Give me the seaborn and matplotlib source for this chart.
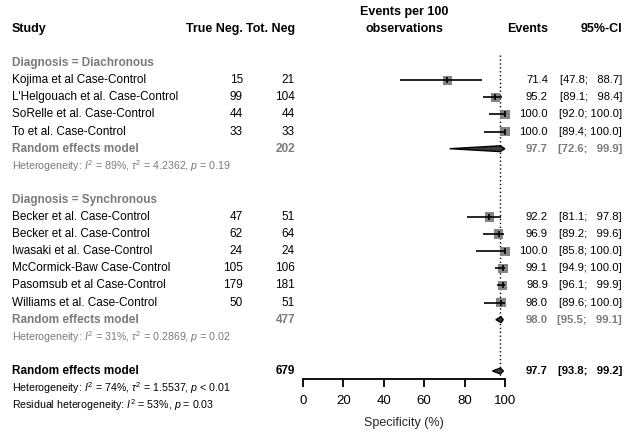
import matplotlib
matplotlib.use("Agg")
import matplotlib.pyplot as plt
import matplotlib.transforms as mtransforms
from matplotlib.patches import Polygon
import pandas as pd
import seaborn as sns

# ---- data ----
studies_dia = ["Kojima et al Case-Control", "L'Helgouach et al. Case-Control",
               "SoRelle et al. Case-Control", "To et al. Case-Control"]
trueneg_dia = [15, 99, 44, 33]
totneg_dia = [21, 104, 44, 33]
est_dia = [71.4, 95.2, 100.0, 100.0]
lo_dia = [47.8, 89.1, 92.0, 89.4]
hi_dia = [88.7, 98.4, 100.0, 100.0]

studies_syn = ["Becker et al. Case-Control", "Becker et al. Case-Control",
               "Iwasaki et al. Case-Control", "McCormick-Baw Case-Control",
               "Pasomsub et al Case-Control", "Williams et al. Case-Control"]
trueneg_syn = [47, 62, 24, 105, 179, 50]
totneg_syn = [51, 64, 24, 106, 181, 51]
est_syn = [92.2, 96.9, 100.0, 99.1, 98.9, 98.0]
lo_syn = [81.1, 89.2, 85.8, 94.9, 96.1, 89.6]
hi_syn = [97.8, 99.6, 100.0, 100.0, 99.9, 100.0]

pooled_total = [202, 477, 679]
pooled_est = [97.7, 98.0, 97.7]
pooled_lo = [72.6, 95.5, 93.8]
pooled_hi = [99.9, 99.1, 99.2]

het_dia = r"Heterogeneity: $I^2$ = 89%, $\tau^2$ = 4.2362, $p$ = 0.19"
het_syn = r"Heterogeneity: $I^2$ = 31%, $\tau^2$ = 0.2869, $p$ = 0.02"
het_all = r"Heterogeneity: $I^2$ = 74%, $\tau^2$ = 1.5537, $p$ < 0.01"
het_res = r"Residual heterogeneity: $I^2$ = 53%, $p$ = 0.03"

xticks = [0, 20, 40, 60, 80, 100]

# row positions (0 = header line)
rows_dia = [3, 4, 5, 6]
rows_syn = [11, 12, 13, 14, 15, 16]
rows_pooled = [7, 17, 20]

sns.set_theme(style="white")
plt.rcParams["font.family"] = ["Liberation Sans", "DejaVu Sans"]
plt.rcParams["mathtext.fontset"] = "custom"
plt.rcParams["mathtext.rm"] = "Liberation Sans"
plt.rcParams["mathtext.it"] = "Liberation Sans:italic"
plt.rcParams["mathtext.bf"] = "Liberation Sans:bold"

W, H = 630, 437
fig = plt.figure(figsize=(6.3, 4.37), dpi=100)
fig.patch.set_facecolor("white")

row_h = 17.1
top_px = 29
ax_bottom_px = 379
ax = fig.add_axes([303 / W, 1 - ax_bottom_px / H, 202 / W, ax_bottom_px / H])
ax.set_xlim(0, 100)
ax.set_ylim((ax_bottom_px - top_px) / row_h, -top_px / row_h)

df = pd.DataFrame({
    "study": studies_dia + studies_syn,
    "est": est_dia + est_syn,
    "lo": lo_dia + lo_syn,
    "hi": hi_dia + hi_syn,
    "row": rows_dia + rows_syn,
})

# squares + CI lines
sns.scatterplot(data=df, x="est", y="row", marker="s", s=46, color="#848484",
                edgecolor="none", ax=ax, clip_on=False, zorder=3)
ax.hlines(df["row"], df["lo"], df["hi"], color="black", lw=1.2, zorder=4, clip_on=False)
ax.scatter(df["est"], df["row"], marker="|", s=18, color="black", lw=1.2, zorder=5, clip_on=False)

# diamonds
for r, e, lo, hi in zip(rows_pooled, pooled_est, pooled_lo, pooled_hi):
    hh = 0.17
    ax.add_patch(Polygon([[lo, r], [e, r - hh], [hi, r], [e, r + hh]], closed=True,
                         facecolor="#3c3c3c", edgecolor="black", lw=1.0, zorder=4,
                         clip_on=False))

# reference line at overall estimate
ax.plot([pooled_est[2], pooled_est[2]], [1.5, ax.get_ylim()[0]], ls=(0, (1, 1.8)),
        color="black", lw=1.0, clip_on=False, zorder=2)

# axes styling
for s in ["top", "left", "right"]:
    ax.spines[s].set_visible(False)
ax.spines["bottom"].set_linewidth(1.3)
ax.spines["bottom"].set_color("black")
ax.set_yticks([])
ax.set_xticks(xticks)
ax.tick_params(axis="x", direction="out", length=6, width=1.3, pad=5.5,
               labelsize=9.5, colors="black", bottom=True)
ax.set_xlabel("Specificity (%)", fontsize=9, labelpad=7)
ax.set_ylabel("")

# text columns
tr = mtransforms.blended_transform_factory(fig.transFigure, ax.transData)


def put(xpx, row, s, ha="left", color="black", weight="normal", size=8.5):
    ax.text(xpx / W, row, s, transform=tr, ha=ha, va="center", color=color,
            fontweight=weight, fontsize=size, clip_on=False)


def ci_text(l, h):
    # pad the upper bound with a figure space, like meta does
    up = f"{h:.1f}"
    pad = "\u2007" * (5 - len(up))
    return f"[{l:.1f}; {pad}{up}]"


gray = "#7a7a7a"
x_study, x_tn, x_tot, x_ev, x_ci = 12, 243, 295, 548, 622
ci_size = 8.1

put(x_study, 0, "Study", weight="bold", size=9)
put(x_tn, 0, "True Neg.", ha="right", weight="bold", size=9)
put(x_tot, 0, "Tot. Neg", ha="right", weight="bold", size=9)
put(404, -1, "Events per 100", ha="center", weight="bold", size=9)
put(404, 0, "observations", ha="center", weight="bold", size=9)
put(x_ev, 0, "Events", ha="right", weight="bold", size=9)
put(x_ci, 0, "95%-CI", ha="right", weight="bold", size=9)

put(x_study, 2, "Diagnosis = Diachronous", color=gray, weight="bold")
put(x_study, 10, "Diagnosis = Synchronous", color=gray, weight="bold")

for names, tn, tot, est, lo, hi, rows in [
        (studies_dia, trueneg_dia, totneg_dia, est_dia, lo_dia, hi_dia, rows_dia),
        (studies_syn, trueneg_syn, totneg_syn, est_syn, lo_syn, hi_syn, rows_syn)]:
    for n, a, b, e, l, h, r in zip(names, tn, tot, est, lo, hi, rows):
        put(x_study, r, n)
        put(x_tn, r, str(a), ha="right")
        put(x_tot, r, str(b), ha="right")
        put(x_ev, r, f"{e:.1f}", ha="right", size=ci_size)
        put(x_ci, r, ci_text(l, h), ha="right", size=ci_size)

for i, (r, tot, e, l, h) in enumerate(zip(rows_pooled, pooled_total, pooled_est,
                                          pooled_lo, pooled_hi)):
    c = gray if i < 2 else "black"
    put(x_study, r, "Random effects model", color=c, weight="bold")
    put(x_tot, r, str(tot), ha="right", color=c, weight="bold")
    put(x_ev, r, f"{e:.1f}", ha="right", color=c, weight="bold", size=ci_size)
    put(x_ci, r, ci_text(l, h), ha="right", color=c, weight="bold", size=ci_size)

put(x_study, 8, het_dia, color=gray, size=7.7)
put(x_study, 18, het_syn, color=gray, size=7.7)
put(x_study, 21, het_all, size=7.7)
put(x_study, 22, het_res, size=7.7)

fig.savefig("out.png", dpi=100, facecolor="white")
